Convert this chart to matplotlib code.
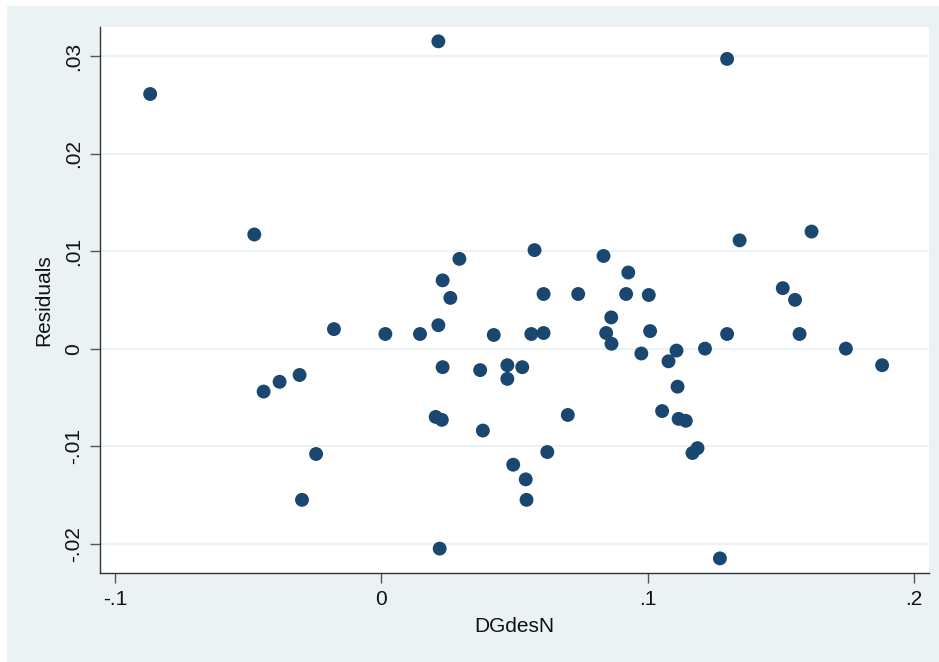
import matplotlib
matplotlib.use("Agg")
import matplotlib.pyplot as plt
from matplotlib.patches import Rectangle

plt.rcParams['font.family'] = ['Liberation Sans', 'DejaVu Sans']

dgdesn = [-0.0868, -0.0477, -0.0442, -0.0382, -0.0307, -0.0245, -0.0298, -0.0178,
          0.0015, 0.0145, 0.0214, 0.0214, 0.0230, 0.0259, 0.0293, 0.0230, 0.0204,
          0.0227, 0.0219, 0.0371, 0.0381, 0.0422, 0.0473, 0.0473, 0.0529, 0.0495,
          0.0542, 0.0545, 0.0563, 0.0575, 0.0609, 0.0609, 0.0623, 0.0700, 0.0739,
          0.0834, 0.0844, 0.0863, 0.0864, 0.0919, 0.0927, 0.0976, 0.1004, 0.1009,
          0.1054, 0.1078, 0.1108, 0.1112, 0.1116, 0.1143, 0.1168, 0.1187, 0.1215,
          0.1271, 0.1298, 0.1298, 0.1345, 0.1507, 0.1553, 0.1570, 0.1615, 0.1744,
          0.1880]
residuals = [0.0261, 0.0117, -0.0044, -0.0034, -0.0027, -0.0108, -0.0155, 0.0020,
             0.0015, 0.0015, 0.0024, 0.0315, 0.0070, 0.0052, 0.0092, -0.0019, -0.0070,
             -0.0073, -0.0205, -0.0022, -0.0084, 0.0014, -0.0017, -0.0031, -0.0019, -0.0119,
             -0.0134, -0.0155, 0.0015, 0.0101, 0.0016, 0.0056, -0.0106, -0.0068, 0.0056,
             0.0095, 0.0016, 0.0032, 0.0005, 0.0056, 0.0078, -0.0005, 0.0055, 0.0018,
             -0.0064, -0.0013, -0.0002, -0.0039, -0.0072, -0.0074, -0.0107, -0.0102, 0.0000,
             -0.0215, 0.0297, 0.0015, 0.0111, 0.0062, 0.0050, 0.0015, 0.0120, 0.0000,
             -0.0017]

xticks = [-0.1, 0.0, 0.1, 0.2]
xtick_labels = ['-.1', '0', '.1', '.2']
yticks = [-0.02, -0.01, 0.0, 0.01, 0.02, 0.03]
ytick_labels = ['-.02', '-.01', '0', '.01', '.02', '.03']

W, H = 939, 662
fig = plt.figure(figsize=(W / 100, H / 100), dpi=100)
fig.patch.set_facecolor('white')
bg = Rectangle((7 / W, 0), (W - 7) / W, (H - 6) / H, transform=fig.transFigure,
               facecolor='#eaf2f3', edgecolor='none', zorder=-10)
fig.add_artist(bg)

ax = fig.add_axes([100 / W, (H - 573) / H, (929 - 100) / W, (573 - 27) / H])
ax.set_zorder(1)
ax.set_facecolor('white')
ax.scatter(dgdesn, residuals, s=100, color='#1a476f', edgecolors='none', zorder=3)

ax.set_xlim(-0.10563, 0.2056)
ax.set_ylim(-0.0230, 0.03297)
ax.set_xticks(xticks)
ax.set_xticklabels(xtick_labels)
ax.set_yticks(yticks)
ax.set_yticklabels(ytick_labels, rotation=90, va='center')
ax.grid(axis='y', color='#eaf2f3', linewidth=1.5, zorder=1)
ax.set_axisbelow(True)

for side in ['top', 'right']:
    ax.spines[side].set_visible(False)
for side in ['left', 'bottom']:
    ax.spines[side].set_color('#333333')
    ax.spines[side].set_linewidth(1.0)

ax.tick_params(axis='both', direction='out', length=7, width=1, color='#555555',
               labelsize=15, labelcolor='#111111', pad=5)

ax.set_xlabel('DGdesN', fontsize=15, color='#111111', labelpad=6)
ax.set_ylabel('Residuals', fontsize=15, color='#111111', labelpad=8)

fig.savefig('out.png', dpi=100)
